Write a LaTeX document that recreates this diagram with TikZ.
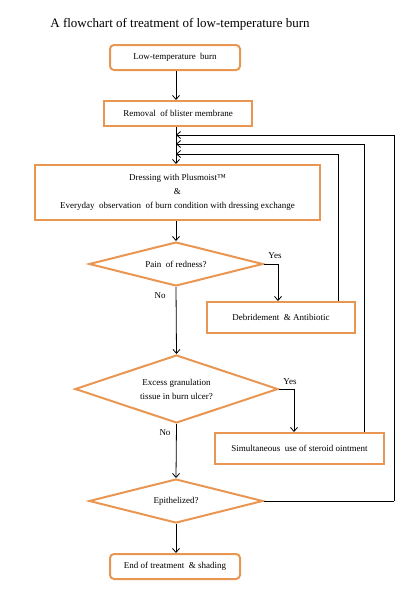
\documentclass[tikz,border=0pt]{standalone}
\usepackage{fontspec}
\setmainfont{Liberation Serif}
\usetikzlibrary{shapes.geometric,arrows.meta,calc}
\definecolor{boxor}{RGB}{232,150,82}
\begin{document}
\begin{tikzpicture}[x=1pt,y=-1pt,
  box/.style={draw=boxor,line width=2pt,inner sep=0pt,align=center,font=\fontsize{9}{14}\selectfont},
  rbox/.style={box,rounded corners=4pt},
  dia/.style={draw=boxor,line width=2pt,shape=diamond,inner sep=0pt,align=center,font=\fontsize{9}{14}\selectfont},
  arr/.style={line width=0.8pt,-{Straight Barb[length=4pt,width=7pt]}},
  ln/.style={line width=0.8pt},
  lab/.style={font=\fontsize{9}{10}\selectfont,inner sep=1pt}]
\useasboundingbox (0,0) rectangle (413,597);
\node[font=\fontsize{13}{15}\selectfont] (title) at (180,24) {A flowchart of treatment of low-temperature burn};
\node[rbox,minimum width=130pt,minimum height=25pt] (b1) at (175,57.5) {Low-temperature\ \ burn};
\node[box,minimum width=148pt,minimum height=25pt] (b2) at (178,113.5) {Removal\ \ of blister membrane};
\node[box,minimum width=285pt,minimum height=55pt] (b3) at (177.5,192.5) {Dressing with Plusmoist™\\ \&\\ Everyday\ \ observation\ \ of burn condition with dressing exchange};
\node[dia,aspect=4,minimum width=174pt,minimum height=44pt] (d1) at (176,264) {Pain\ \ of redness?};
\node[box,minimum width=148pt,minimum height=31pt] (b4) at (281,317.5) {Debridement\ \ \& Antibiotic};
\node[dia,aspect=3,minimum width=203pt,minimum height=68pt] (d2) at (176.5,389) {Excess granulation\\ tissue in burn ulcer?};
\node[box,minimum width=169pt,minimum height=31pt] (b5) at (299.5,448.5) {Simultaneous\ \ use of steroid ointment};
\node[dia,aspect=4,minimum width=174pt,minimum height=44pt] (d3) at (176,501) {Epithelized?};
\node[rbox,minimum width=130pt,minimum height=25pt] (b6) at (175,566.5) {End of treatment\ \ \& shading};
% main flow
\coordinate (mx) at (176,0);
\draw[arr] (b1.south -| mx) -- (b2.north -| mx);
\draw[arr] (b2.south -| mx) -- (b3.north -| mx);
\draw[arr] (b3.south -| mx) -- (d1.north);
\draw[arr] (d1.south) -- (d2.north);
\draw[arr] (d2.south) -- (d3.north);
\draw[arr] (d3.south) -- (b6.north -| mx);
% yes branches
\coordinate (y1) at (278,264);
\draw[arr] (d1.east) -- (y1) -- (y1 |- b4.north);
\coordinate (y2) at (294,389);
\draw[arr] (d2.east) -- (y2) -- (y2 |- b5.north);
\node[lab,anchor=south] (yes1) at (275,260) {Yes};
\node[lab,anchor=south] (yes2) at (290,386) {Yes};
\node[lab] (no1) at (160,296) {No};
\node[lab] (no2) at (165,433) {No};
% feedback
\coordinate (f1) at (176,135);
\coordinate (f2) at (176,144);
\coordinate (f3) at (176,154);
\coordinate (r4) at ($(b4.north east)+(-18,0)$);
\coordinate (r5) at ($(b5.north east)+(-21,0)$);
\coordinate (r6) at (394,501);
\draw[arr] (r4) |- (f3);
\draw[arr] (r5) |- (f2);
\draw[ln] (d3.east) -- (r6);
\draw[arr] (r6) |- (f1);
\end{tikzpicture}
\end{document}
